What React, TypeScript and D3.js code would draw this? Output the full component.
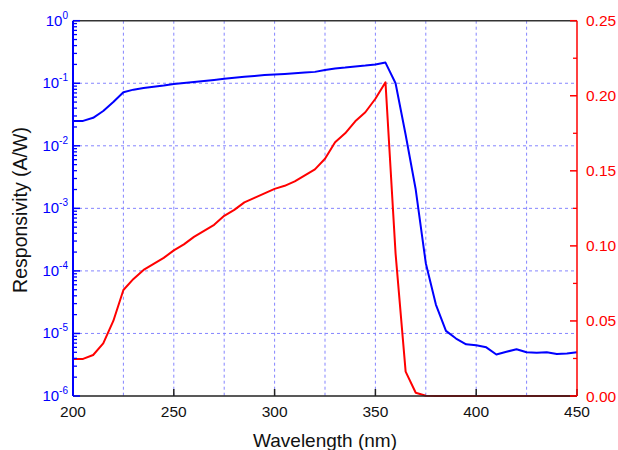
import * as d3 from "d3";

const wavelengths = d3.range(200, 451, 5);

// responsivity, A/W (left log axis)
const blueValues = [
  0.025, 0.025, 0.028, 0.036, 0.05, 0.072, 0.079, 0.084, 0.088, 0.092,
  0.097, 0.101, 0.105, 0.109, 0.113, 0.118, 0.122, 0.127, 0.131, 0.135,
  0.138, 0.141, 0.144, 0.148, 0.152, 0.163, 0.172, 0.178, 0.186, 0.192,
  0.2, 0.214, 0.1, 0.015, 0.002, 1.33e-4, 2.9e-5, 1.1e-5, 8.3e-6, 6.7e-6,
  6.5e-6, 6.0e-6, 4.6e-6, 5.1e-6, 5.6e-6, 5.0e-6, 4.9e-6, 5.0e-6, 4.7e-6, 4.8e-6,
  5.0e-6,
];

// right linear axis
const redValues = [
  0.0247, 0.0247, 0.0273, 0.035, 0.05, 0.0706, 0.078, 0.084, 0.088, 0.092,
  0.097, 0.101, 0.106, 0.11, 0.114, 0.12, 0.124, 0.129, 0.132, 0.135,
  0.138, 0.14, 0.143, 0.147, 0.151, 0.158, 0.169, 0.175, 0.183, 0.189,
  0.198, 0.209, 0.095, 0.0162, 0.0022, 0.0002, 0, 0, 0, 0,
  0, 0, 0, 0, 0, 0, 0, 0, 0, 0,
  0,
];

const xTicks = [200, 250, 300, 350, 400, 450];
const xGrid = d3.range(225, 450, 25);
const leftExps = [0, -1, -2, -3, -4, -5, -6];
const rightTicks = [0, 0.05, 0.1, 0.15, 0.2, 0.25];
const rightMinor = [0.025, 0.075, 0.125, 0.175, 0.225];

const W = 618;
const H = 450;
const left = 73;
const right = 577;
const top = 20.7;
const bottom = 396;

export default function App() {
  const x = d3.scaleLinear().domain([200, 450]).range([left, right]);
  const yL = d3.scaleLog().domain([1e-6, 1]).range([bottom, top]);
  const yR = d3.scaleLinear().domain([0, 0.25]).range([bottom, top]);

  const blueLine = d3
    .line<number>()
    .x((_, i) => x(wavelengths[i]))
    .y((d) => yL(d));
  const redLine = d3
    .line<number>()
    .x((_, i) => x(wavelengths[i]))
    .y((d) => yR(d));

  const minorLog: number[] = [];
  for (let e = -6; e < 0; e++) {
    for (let k = 2; k <= 9; k++) minorLog.push(k * Math.pow(10, e));
  }

  const grid = "#8585ff";
  const font = "Liberation Sans, Arial, sans-serif";

  return (
    <svg
      width={W}
      height={H}
      style={{ position: "absolute", left: 0, top: 0, background: "#fff" }}
      fontFamily={font}
    >
      {/* grid */}
      {xGrid.map((v) => (
        <line key={"gx" + v} x1={x(v)} x2={x(v)} y1={top} y2={bottom}
          stroke={grid} strokeWidth={1} strokeDasharray="3,3" />
      ))}
      {leftExps.slice(1, -1).map((e) => (
        <line key={"gy" + e} x1={left} x2={right} y1={yL(Math.pow(10, e))} y2={yL(Math.pow(10, e))}
          stroke={grid} strokeWidth={1} strokeDasharray="3,3" />
      ))}

      {/* curves */}
      <path d={blueLine(blueValues) ?? ""} fill="none" stroke="#0000ff" strokeWidth={2} strokeLinejoin="round" />
      <path d={redLine(redValues) ?? ""} fill="none" stroke="#ff0000" strokeWidth={2} strokeLinejoin="round" />

      {/* frame */}
      <line x1={left} x2={right} y1={top} y2={top} stroke="#333" strokeWidth={1.5} />
      <line x1={left} x2={right} y1={bottom} y2={bottom} stroke="#222" strokeWidth={1.5} />

      {/* bottom axis */}
      {xTicks.map((v) => (
        <g key={"xt" + v}>
          <line x1={x(v)} x2={x(v)} y1={bottom} y2={bottom - 7} stroke="#222" strokeWidth={1.5} />
          <text x={x(v)} y={417} fontSize={15.5} textAnchor="middle" fill="#111">{v}</text>
        </g>
      ))}
      <text x={(left + right) / 2} y={446.5} fontSize={19} textAnchor="middle" fill="#111">
        Wavelength (nm)
      </text>

      {/* left axis */}
      <line x1={left} x2={left} y1={top} y2={bottom} stroke="#0000ff" strokeWidth={2} />
      {minorLog.map((v, i) => (
        <line key={"lm" + i} x1={left} x2={left + 4} y1={yL(v)} y2={yL(v)} stroke="#0000ff" strokeWidth={1.3} />
      ))}
      {leftExps.map((e) => {
        const yy = yL(Math.pow(10, e));
        return (
          <g key={"lt" + e}>
            <line x1={left} x2={left + 7} y1={yy} y2={yy} stroke="#0000ff" strokeWidth={1.5} />
            <text x={68} y={yy + 5} fontSize={15} textAnchor="end" fill="#0000ff">
              10<tspan fontSize={10} dy={-7}>{e === 0 ? "0" : "-" + -e}</tspan>
            </text>
          </g>
        );
      })}
      <text
        transform={`translate(27,210) rotate(-90)`}
        fontSize={19.5}
        textAnchor="middle"
        fill="#111"
      >
        Responsivity (A/W)
      </text>

      {/* right axis */}
      <line x1={right} x2={right} y1={top} y2={bottom} stroke="#ff0000" strokeWidth={1.5} />
      {rightMinor.map((v) => (
        <line key={"rm" + v} x1={right} x2={right - 4} y1={yR(v)} y2={yR(v)} stroke="#ff0000" strokeWidth={1.3} />
      ))}
      {rightTicks.map((v) => (
        <g key={"rt" + v}>
          <line x1={right} x2={right - 7} y1={yR(v)} y2={yR(v)} stroke="#ff0000" strokeWidth={1.5} />
          <text x={586} y={yR(v) + 5.5} fontSize={15.5} fill="#ff0000">{v.toFixed(2)}</text>
        </g>
      ))}
    </svg>
  );
}
